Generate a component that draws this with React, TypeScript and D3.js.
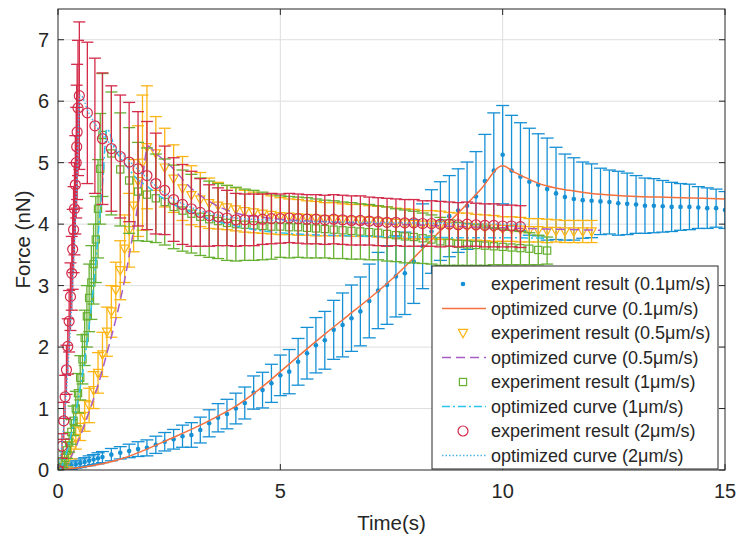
import React from 'react';
import * as d3 from 'd3';

// ---------- data ----------
const xTicks = [0, 5, 10, 15];
const yTicks = [0, 1, 2, 3, 4, 5, 6, 7];

// 0.1 um/s experiment
const blueT = [0, 0.1, 0.2, 0.3, 0.4, 0.5, 0.6, 0.7, 0.8, 0.9, 1.0,
  1.2, 1.4, 1.6, 1.8, 2.0, 2.2, 2.4, 2.6, 2.8, 3.0, 3.2, 3.4, 3.6, 3.8, 4.0, 4.2, 4.4, 4.6, 4.8, 5.0,
  5.2, 5.4, 5.6, 5.8, 6.0, 6.2, 6.4, 6.6, 6.8, 7.0, 7.2, 7.4, 7.6, 7.8, 8.0, 8.2, 8.4, 8.6, 8.8, 9.0,
  9.2, 9.4, 9.6, 9.8, 10.0, 10.2, 10.4, 10.6, 10.8, 11.0, 11.2, 11.4, 11.6, 11.8, 12.0, 12.2, 12.4, 12.6,
  12.8, 13.0, 13.2, 13.4, 13.6, 13.8, 14.0, 14.2, 14.4, 14.6, 14.8, 15.0];
const blueV = [0, 0.03, 0.05, 0.07, 0.09, 0.11, 0.13, 0.15, 0.17, 0.19, 0.21,
  0.25, 0.28, 0.31, 0.34, 0.36, 0.41, 0.46, 0.50, 0.55, 0.57, 0.65, 0.76, 0.85, 0.91, 1.00, 1.09, 1.26, 1.30, 1.41, 1.54,
  1.60, 1.76, 1.90, 2.03, 2.11, 2.28, 2.36, 2.47, 2.58, 2.75, 2.92, 3.01, 3.15, 3.20, 3.39, 3.64, 3.88, 4.05, 4.13, 4.22,
  4.30, 4.45, 4.70, 4.87, 5.13, 4.87, 4.77, 4.69, 4.64, 4.57, 4.50, 4.44, 4.41, 4.39, 4.38, 4.37, 4.36, 4.34,
  4.33, 4.32, 4.30, 4.30, 4.29, 4.28, 4.28, 4.28, 4.27, 4.26, 4.26, 4.23];
const blueE = [0.04, 0.05, 0.05, 0.06, 0.06, 0.07, 0.07, 0.08, 0.08, 0.09, 0.09,
  0.10, 0.10, 0.11, 0.12, 0.13, 0.14, 0.15, 0.16, 0.18, 0.20, 0.21, 0.22, 0.23, 0.24, 0.25, 0.26, 0.27, 0.29, 0.31, 0.33,
  0.36, 0.38, 0.42, 0.45, 0.47, 0.48, 0.52, 0.54, 0.56, 0.60, 0.62, 0.64, 0.66, 0.67, 0.68, 0.69, 0.68, 0.64, 0.66, 0.68,
  0.71, 0.73, 0.76, 0.94, 0.80, 0.90, 0.88, 0.87, 0.83, 0.83, 0.75, 0.70, 0.67, 0.62, 0.60, 0.54, 0.52, 0.52,
  0.50, 0.47, 0.45, 0.44, 0.42, 0.40, 0.38, 0.37, 0.34, 0.33, 0.31, 0.30];
const blueFitT = [0, 0.5, 1, 1.5, 2, 2.5, 3, 3.5, 4, 4.5, 5, 5.5, 6, 6.5, 7, 7.5, 8, 8.5, 9, 9.5, 10,
  10.25, 10.5, 10.75, 11, 11.5, 12, 12.5, 13, 13.5, 14, 14.5, 15];
const blueFitV = [0, 0.04, 0.10, 0.20, 0.34, 0.50, 0.66, 0.84, 1.04, 1.30, 1.60, 1.91, 2.21, 2.50, 2.79, 3.10, 3.45, 3.82, 4.18, 4.56, 4.95,
  4.85, 4.76, 4.68, 4.62, 4.55, 4.50, 4.47, 4.45, 4.44, 4.43, 4.42, 4.41];

// 0.5 um/s experiment
const yellowT = [0, 0.1, 0.2, 0.3, 0.4, 0.5, 0.6, 0.7, 0.8, 0.9, 1.0, 1.1, 1.2, 1.3, 1.4, 1.5, 1.6, 1.7, 1.8, 1.9, 2.0,
  2.2, 2.4, 2.6, 2.8, 3.0, 3.2, 3.4, 3.6, 3.8, 4.0, 4.2, 4.4, 4.6, 4.8, 5.0, 5.2, 5.4, 5.6, 5.8, 6.0,
  6.2, 6.4, 6.6, 6.8, 7.0, 7.2, 7.4, 7.6, 7.8, 8.0, 8.2, 8.4, 8.6, 8.8, 9.0, 9.2, 9.4, 9.6, 9.8, 10.0,
  10.2, 10.4, 10.6, 10.8, 11.0, 11.2, 11.4, 11.6, 11.8, 12.0];
const yellowV = [0, 0.05, 0.15, 0.32, 0.52, 0.70, 0.88, 1.05, 1.30, 1.58, 1.88, 2.25, 2.58, 2.93, 3.25, 3.60, 3.90, 4.30, 4.70, 5.00, 5.25,
  5.15, 4.92, 4.74, 4.58, 4.47, 4.40, 4.34, 4.30, 4.27, 4.24, 4.21, 4.19, 4.17, 4.15, 4.13, 4.12, 4.11, 4.10, 4.09, 4.08,
  4.08, 4.07, 4.06, 4.06, 4.05, 4.04, 4.03, 4.02, 4.01, 4.00, 3.99, 3.99, 3.98, 3.97, 3.96, 3.96, 3.95, 3.94, 3.93, 3.92,
  3.92, 3.91, 3.90, 3.90, 3.89, 3.89, 3.88, 3.88, 3.88, 3.88];
const yellowE = [0.03, 0.06, 0.10, 0.14, 0.18, 0.22, 0.25, 0.28, 0.30, 0.33, 0.36, 0.40, 0.42, 0.45, 0.48, 0.55, 0.60, 0.75, 0.90, 1.10, 1.00,
  0.60, 0.64, 0.55, 0.52, 0.48, 0.44, 0.41, 0.38, 0.36, 0.35, 0.34, 0.33, 0.32, 0.31, 0.30, 0.29, 0.29, 0.28, 0.28, 0.27,
  0.27, 0.26, 0.26, 0.26, 0.25, 0.25, 0.25, 0.24, 0.24, 0.24, 0.23, 0.23, 0.23, 0.22, 0.22, 0.22, 0.21, 0.21, 0.21, 0.20,
  0.20, 0.20, 0.19, 0.19, 0.19, 0.18, 0.18, 0.18, 0.18, 0.18];
const purpleFitT = [0.1, 0.3, 0.5, 0.7, 0.9, 1.1, 1.3, 1.5, 1.7, 1.9, 2.02, 2.2, 2.5, 3.0, 3.5, 4.0, 4.5, 5, 6, 7, 8, 9, 10, 11, 12.2];
const purpleFitV = [0, 0.22, 0.55, 0.95, 1.38, 1.90, 2.45, 3.10, 3.90, 4.75, 5.27, 5.15, 4.97, 4.58, 4.33, 4.18, 4.12, 4.08, 4.04, 4.01, 3.99, 3.96, 3.94, 3.92, 3.90];

// 1 um/s experiment
const greenT = [0, 0.05, 0.1, 0.15, 0.2, 0.25, 0.3, 0.35, 0.4, 0.45, 0.5, 0.55, 0.6, 0.65, 0.7, 0.75, 0.8, 0.85, 0.9, 0.95, 1.0,
  1.2, 1.4, 1.6, 1.8, 2.0, 2.2, 2.4, 2.6, 2.8, 3.0, 3.2, 3.4, 3.6, 3.8, 4.0, 4.2, 4.4, 4.6, 4.8, 5.0,
  5.2, 5.4, 5.6, 5.8, 6.0, 6.2, 6.4, 6.6, 6.8, 7.0, 7.2, 7.4, 7.6, 7.8, 8.0, 8.2, 8.4, 8.6, 8.8, 9.0,
  9.2, 9.4, 9.6, 9.8, 10.0, 10.2, 10.4, 10.6, 10.8, 11.0];
const greenV = [0, 0.05, 0.12, 0.20, 0.32, 0.45, 0.62, 0.80, 1.00, 1.25, 1.50, 1.80, 2.15, 2.50, 2.80, 3.05, 3.35, 3.75, 4.25, 4.90, 5.45,
  5.15, 4.89, 4.71, 4.53, 4.48, 4.42, 4.36, 4.28, 4.22, 4.17, 4.12, 4.08, 4.05, 4.02, 4.00, 3.99, 3.98, 3.97, 3.96, 3.96,
  3.95, 3.95, 3.94, 3.93, 3.92, 3.91, 3.90, 3.89, 3.88, 3.87, 3.86, 3.84, 3.82, 3.80, 3.79, 3.77, 3.75, 3.72, 3.70, 3.68,
  3.67, 3.66, 3.65, 3.64, 3.63, 3.62, 3.61, 3.60, 3.58, 3.57];
const greenE = [0.03, 0.05, 0.08, 0.10, 0.13, 0.16, 0.20, 0.24, 0.28, 0.32, 0.36, 0.40, 0.45, 0.50, 0.55, 0.60, 0.65, 0.70, 0.80, 0.90, 1.00,
  1.00, 0.92, 0.86, 0.80, 0.76, 0.72, 0.70, 0.68, 0.66, 0.64, 0.63, 0.62, 0.61, 0.61, 0.60, 0.58, 0.57, 0.55, 0.53, 0.50,
  0.50, 0.49, 0.49, 0.48, 0.47, 0.47, 0.46, 0.46, 0.45, 0.45, 0.44, 0.44, 0.43, 0.43, 0.42, 0.41, 0.40, 0.39, 0.37, 0.35,
  0.34, 0.33, 0.32, 0.30, 0.29, 0.28, 0.27, 0.26, 0.24, 0.22];
const cyanFitT = [0.05, 0.2, 0.4, 0.6, 0.8, 0.9, 1.0, 1.1, 1.3, 1.55, 1.8, 2.0, 2.3, 2.6, 3.0, 3.5, 4.0, 4.5, 5.0, 6.0, 7, 8, 9, 10, 11];
const cyanFitV = [0, 0.30, 0.95, 1.80, 3.00, 3.80, 4.65, 5.55, 5.20, 4.94, 4.72, 4.62, 4.45, 4.32, 4.20, 4.06, 3.97, 3.90, 3.86, 3.82, 3.80, 3.79, 3.78, 3.78, 3.77];

// 2 um/s experiment
const redT = [0, 0.09, 0.13, 0.16, 0.19, 0.22, 0.25, 0.28, 0.31, 0.33, 0.35, 0.37, 0.39, 0.41, 0.42, 0.43, 0.45, 0.48,
  0.66, 0.83, 1.0, 1.2, 1.4, 1.6, 1.8, 2.0, 2.2, 2.4, 2.6, 2.8, 3.0, 3.2, 3.4, 3.6, 3.8, 4.0, 4.2, 4.4, 4.6, 4.8,
  5.0, 5.2, 5.4, 5.6, 5.8, 6.0, 6.2, 6.4, 6.6, 6.8, 7.0, 7.2, 7.4, 7.6, 7.8, 8.0, 8.2, 8.4, 8.6, 8.8,
  9.0, 9.2, 9.4, 9.6, 9.8, 10.0, 10.2, 10.4];
const redV = [0, 0.39, 0.80, 1.19, 1.63, 2.01, 2.42, 2.82, 3.20, 3.59, 3.91, 4.25, 4.64, 5.00, 5.26, 5.50, 5.89, 6.09,
  5.81, 5.60, 5.39, 5.23, 5.10, 5.01, 4.90, 4.79, 4.66, 4.55, 4.40, 4.32, 4.25, 4.19, 4.14, 4.12, 4.10, 4.07, 4.07, 4.07, 4.08, 4.09,
  4.09, 4.10, 4.09, 4.08, 4.08, 4.07, 4.08, 4.07, 4.06, 4.06, 4.05, 4.04, 4.03, 4.03, 4.02, 4.02, 4.01, 4.01, 4.00, 4.00,
  3.99, 4.00, 3.99, 3.98, 3.98, 3.97, 3.97, 3.96];
const redE = [0.05, 0.20, 0.30, 0.35, 0.40, 0.45, 0.50, 0.55, 0.60, 0.65, 0.70, 0.75, 0.80, 0.90, 1.00, 1.10, 1.10, 1.20,
  1.15, 1.10, 1.07, 1.02, 1.00, 0.97, 0.93, 0.88, 0.82, 0.72, 0.68, 0.65, 0.61, 0.55, 0.50, 0.47, 0.45, 0.43, 0.42, 0.42, 0.41, 0.41,
  0.40, 0.40, 0.40, 0.40, 0.40, 0.40, 0.40, 0.40, 0.40, 0.40, 0.39, 0.39, 0.39, 0.38, 0.38, 0.38, 0.37, 0.37, 0.37, 0.36,
  0.36, 0.36, 0.35, 0.35, 0.35, 0.34, 0.34, 0.34];
const dotFitT = [0, 0.1, 0.2, 0.3, 0.4, 0.5, 0.7, 1.0, 1.5, 2.0, 2.5, 3.0, 3.5, 4.0, 5.0, 6.0, 7.0, 8.0, 9.0, 10.0, 10.5];
const dotFitV = [0, 0.5, 1.4, 2.6, 4.2, 6.1, 5.8, 5.45, 5.1, 4.75, 4.45, 4.27, 4.16, 4.10, 4.06, 4.04, 4.03, 4.02, 4.01, 4.00, 4.00];

const legendLabels = [
  'experiment result (0.1μm/s)', 'optimized curve (0.1μm/s)',
  'experiment result (0.5μm/s)', 'optimized curve (0.5μm/s)',
  'experiment result (1μm/s)', 'optimized curve (1μm/s)',
  'experiment result (2μm/s)', 'optimized curve (2μm/s)',
];

// ---------- styles ----------
const C = {
  blue: '#1590D5', orange: '#F5703F', yellow: '#FDB515', purple: '#A85CC8',
  green: '#66B032', cyan: '#2CC3F0', red: '#D42B4A', dot: '#4DB3E6',
};
const FONT = '"Liberation Sans", Arial, Helvetica, sans-serif';
const L = 58, R = 725, T = 9, B = 470;

type Marker = 'dot' | 'tri' | 'sq' | 'circ';

function markerEl(kind: Marker, cx: number, cy: number, color: string, key: string | number) {
  if (kind === 'dot') return <circle key={key} cx={cx} cy={cy} r={2.3} fill={color} />;
  if (kind === 'circ') return <circle key={key} cx={cx} cy={cy} r={5} fill="none" stroke={color} strokeWidth={1.2} />;
  if (kind === 'sq') return <rect key={key} x={cx - 3.6} y={cy - 3.6} width={7.2} height={7.2} fill="none" stroke={color} strokeWidth={1.2} />;
  const p = `M${cx - 4.6},${cy - 3.6}L${cx + 4.6},${cy - 3.6}L${cx},${cy + 4.8}Z`;
  return <path key={key} d={p} fill="none" stroke={color} strokeWidth={1.2} />;
}

export default function App() {
  const x = d3.scaleLinear().domain([0, 15]).range([L, R]);
  const y = d3.scaleLinear().domain([0, 7.5]).range([B, T]);
  const line = d3.line<[number, number]>().x(d => x(d[0])).y(d => y(d[1])).curve(d3.curveMonotoneX);

  const errSeries = (ts: number[], vs: number[], es: number[], color: string, kind: Marker, cap: number, id: string) => (
    <g key={id}>
      {ts.map((t, i) => {
        const cx = x(t), y1 = y(vs[i] + es[i]), y0 = y(vs[i] - es[i]);
        return (
          <g key={i} stroke={color} strokeWidth={1.3} fill="none">
            <line x1={cx} x2={cx} y1={y1} y2={y0} />
            <line x1={cx - cap} x2={cx + cap} y1={y1} y2={y1} />
            <line x1={cx - cap} x2={cx + cap} y1={y0} y2={y0} />
          </g>
        );
      })}
      {ts.map((t, i) => markerEl(kind, x(t), y(vs[i]), color, 'm' + i))}
    </g>
  );
  const fitPath = (ts: number[], vs: number[], color: string, dash: string | undefined, id: string) => (
    <path key={id} d={line(ts.map((t, i) => [t, vs[i]] as [number, number])) || ''} fill="none"
      stroke={color} strokeWidth={1.5} strokeDasharray={dash} />
  );

  const legendItems: { kind: Marker | 'line'; color: string; dash?: string }[] = [
    { kind: 'dot', color: C.blue }, { kind: 'line', color: C.orange },
    { kind: 'tri', color: C.yellow }, { kind: 'line', color: C.purple, dash: '9,5' },
    { kind: 'sq', color: C.green }, { kind: 'line', color: C.cyan, dash: '8,3,2,3' },
    { kind: 'circ', color: C.red }, { kind: 'line', color: C.dot, dash: '1.5,2' },
  ];

  const lx0 = 432, ly0 = 266, lw = 286, lh = 203;
  const rowY = (i: number) => 284 + i * 24.5;

  return (
    <svg width={736} height={536} style={{ position: 'absolute', left: 0, top: 0, background: '#fff' }}
      fontFamily={FONT}>
      <rect x={0} y={0} width={736} height={536} fill="#fff" />
      <defs>
        <clipPath id="plotclip"><rect x={L} y={T} width={R - L} height={B - T} /></clipPath>
      </defs>
      {/* grid */}
      <g stroke="#DEDEDE" strokeWidth={1}>
        {yTicks.filter(v => v > 0).map(v => <line key={'gy' + v} x1={L} x2={R} y1={y(v)} y2={y(v)} />)}
        {xTicks.filter(v => v > 0 && v < 15).map(v => <line key={'gx' + v} x1={x(v)} x2={x(v)} y1={T} y2={B} />)}
      </g>
      <g clipPath="url(#plotclip)">
        {errSeries(blueT, blueV, blueE, C.blue, 'dot', 6.5, 'blue')}
        {fitPath(blueFitT, blueFitV, C.orange, undefined, 'bfit')}
        {errSeries(yellowT, yellowV, yellowE, C.yellow, 'tri', 6, 'yellow')}
        {fitPath(purpleFitT, purpleFitV, C.purple, '9,5', 'pfit')}
        {errSeries(greenT, greenV, greenE, C.green, 'sq', 6, 'green')}
        {fitPath(cyanFitT, cyanFitV, C.cyan, '8,3,2,3', 'cfit')}
        {errSeries(redT, redV, redE, C.red, 'circ', 6, 'red')}
        {fitPath(dotFitT, dotFitV, C.dot, '1.5,2', 'dfit')}
      </g>
      {/* axes box */}
      <rect x={L} y={T} width={R - L} height={B - T} fill="none" stroke="#262626" strokeWidth={1} />
      <g stroke="#262626" strokeWidth={1}>
        {yTicks.map(v => <g key={'ty' + v}>
          <line x1={L} x2={L + 6} y1={y(v)} y2={y(v)} />
          <line x1={R - 6} x2={R} y1={y(v)} y2={y(v)} />
        </g>)}
        {xTicks.map(v => <g key={'tx' + v}>
          <line x1={x(v)} x2={x(v)} y1={B} y2={B - 6} />
          <line x1={x(v)} x2={x(v)} y1={T} y2={T + 6} />
        </g>)}
      </g>
      <g fontSize={20} fill="#262626">
        {yTicks.map(v => <text key={'ly' + v} x={49} y={y(v)} textAnchor="end" dominantBaseline="central">{v}</text>)}
        {xTicks.map(v => <text key={'lx' + v} x={x(v)} y={491} textAnchor="middle" dominantBaseline="central">{v}</text>)}
      </g>
      <text x={(L + R) / 2} y={522} textAnchor="middle" dominantBaseline="central" fontSize={20.5} fill="#262626">Time(s)</text>
      <text transform={`translate(22,${(T + B) / 2}) rotate(-90)`} textAnchor="middle" dominantBaseline="central"
        fontSize={20.5} fill="#262626">Force (nN)</text>
      {/* legend */}
      <g>
        <rect x={lx0} y={ly0} width={lw} height={lh} fill="#fff" stroke="#262626" strokeWidth={1} />
        {legendItems.map((it, i) => (
          <g key={'lg' + i}>
            {it.kind === 'line'
              ? <line x1={442} x2={486} y1={rowY(i)} y2={rowY(i)} stroke={it.color} strokeWidth={1.5} strokeDasharray={it.dash} />
              : markerEl(it.kind as Marker, 463, rowY(i), it.color, 'lm' + i)}
            <text x={491} y={rowY(i)} dominantBaseline="central" fontSize={18} fill="#262626">{legendLabels[i]}</text>
          </g>
        ))}
      </g>
    </svg>
  );
}
